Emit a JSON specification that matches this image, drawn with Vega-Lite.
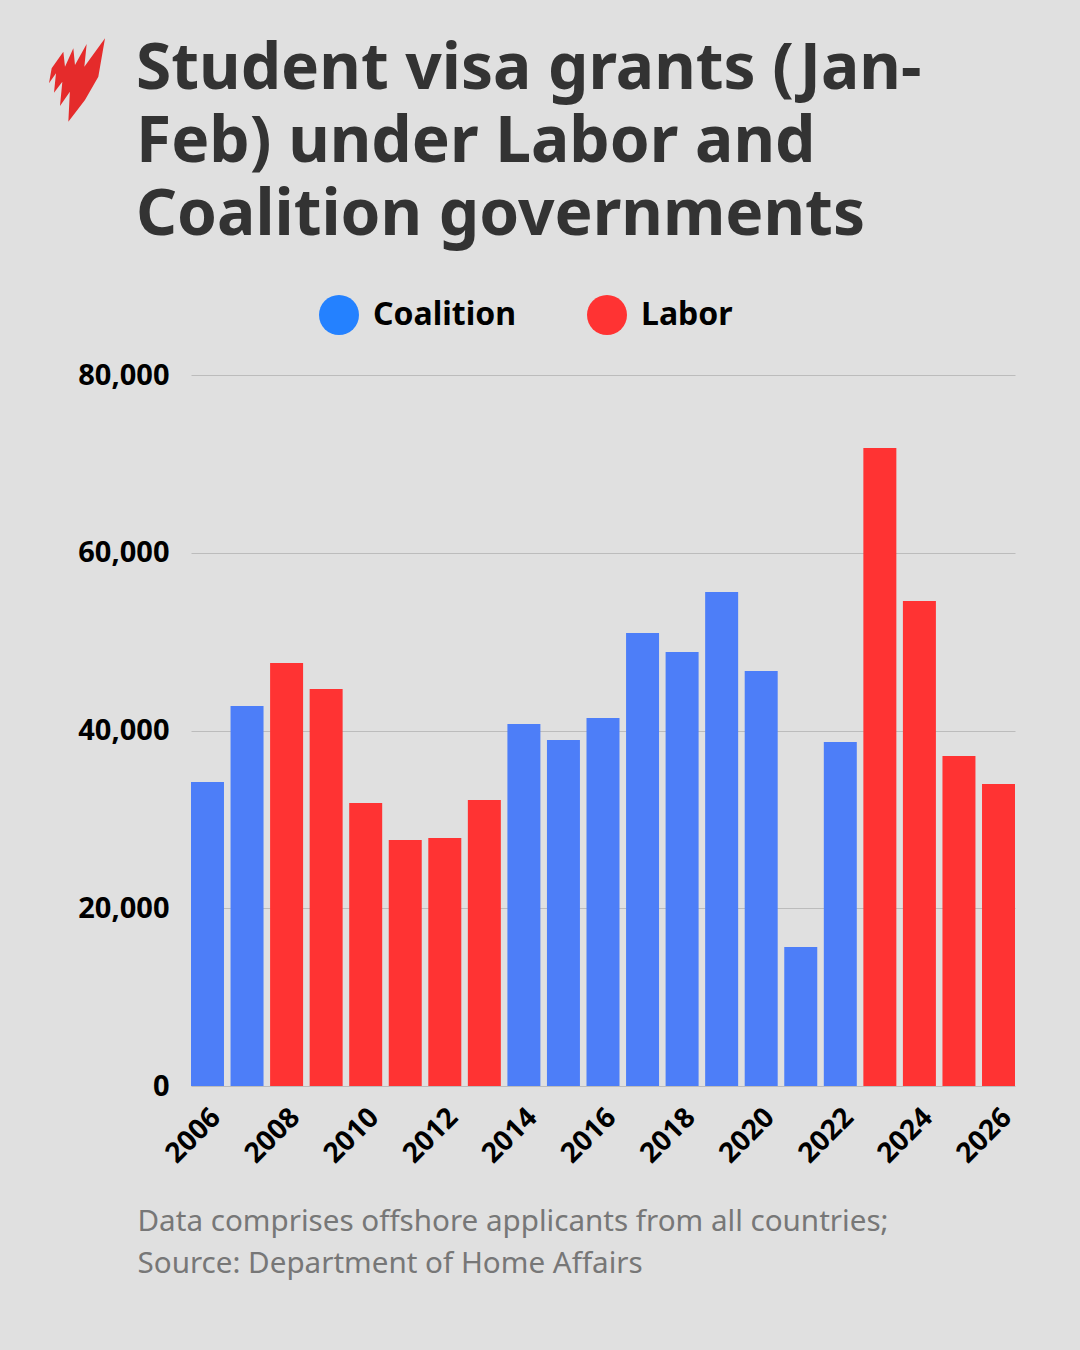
{
  "$schema": "https://vega.github.io/schema/vega-lite/v6.json",
  "description": "Student visa grants (Jan-Feb) under Labor and Coalition governments",
  "width": 824,
  "height": 711,
  "autosize": "none",
  "padding": {"left": 191, "top": 375, "right": 65, "bottom": 264},
  "background": "#e0e0e0",
  "config": {"view": {"stroke": null}},
  "title": {
    "text": ["Student visa grants (Jan-", "Feb) under Labor and", "Coalition governments"],
    "anchor": "start",
    "frame": "group",
    "dx": -55,
    "offset": -261,
    "baseline": "alphabetic",
    "font": "Noto Sans",
    "fontSize": 64,
    "fontWeight": 700,
    "lineHeight": 73,
    "color": "#333333"
  },
  "layer": [
    {
      "data": {
        "values": [
          {"year": 2006, "grants": 34200, "government": "Coalition"},
          {"year": 2007, "grants": 42750, "government": "Coalition"},
          {"year": 2008, "grants": 47600, "government": "Labor"},
          {"year": 2009, "grants": 44660, "government": "Labor"},
          {"year": 2010, "grants": 31840, "government": "Labor"},
          {"year": 2011, "grants": 27680, "government": "Labor"},
          {"year": 2012, "grants": 27900, "government": "Labor"},
          {"year": 2013, "grants": 32180, "government": "Labor"},
          {"year": 2014, "grants": 40730, "government": "Coalition"},
          {"year": 2015, "grants": 38930, "government": "Coalition"},
          {"year": 2016, "grants": 41400, "government": "Coalition"},
          {"year": 2017, "grants": 50960, "government": "Coalition"},
          {"year": 2018, "grants": 48830, "government": "Coalition"},
          {"year": 2019, "grants": 55580, "government": "Coalition"},
          {"year": 2020, "grants": 46690, "government": "Coalition"},
          {"year": 2021, "grants": 15640, "government": "Coalition"},
          {"year": 2022, "grants": 38700, "government": "Coalition"},
          {"year": 2023, "grants": 71780, "government": "Labor"},
          {"year": 2024, "grants": 54560, "government": "Labor"},
          {"year": 2025, "grants": 37130, "government": "Labor"},
          {"year": 2026, "grants": 33980, "government": "Labor"}
        ]
      },
      "mark": {"type": "bar"},
      "encoding": {
        "x": {
          "field": "year",
          "type": "ordinal",
          "scale": {"paddingInner": 0.166, "paddingOuter": 0},
          "axis": {
            "values": [2006, 2008, 2010, 2012, 2014, 2016, 2018, 2020, 2022, 2024, 2026],
            "labelAngle": -45,
            "labelAlign": "right",
            "labelBaseline": "middle",
            "labelPadding": 27,
            "labelOffset": 9,
            "labelFont": "Noto Sans",
            "labelFontSize": 28,
            "labelFontWeight": 700,
            "labelColor": "#000000",
            "ticks": false,
            "domain": false,
            "title": ["Data comprises offshore applicants from all countries;", "Source: Department of Home Affairs"],
            "titleFont": "Noto Sans",
            "titleFontSize": 29.6,
            "titleFontWeight": 400,
            "titleColor": "#777777",
            "titleLineHeight": 42,
            "titleAnchor": "start",
            "titleAlign": "left",
            "titleBaseline": "alphabetic",
            "titleX": -54,
            "titleY": 144
          }
        },
        "y": {
          "field": "grants",
          "type": "quantitative",
          "scale": {"domain": [0, 80000]},
          "axis": {
            "values": [0, 20000, 40000, 60000, 80000],
            "labelExpr": "format(datum.value, ',')",
            "labelFont": "Noto Sans",
            "labelFontSize": 29,
            "labelFontWeight": 700,
            "labelColor": "#000000",
            "labelPadding": 22,
            "ticks": false,
            "domain": false,
            "gridColor": "#bcbcbc",
            "gridWidth": 1,
            "title": null
          }
        },
        "color": {
          "condition": {"test": "datum.government === 'Coalition'", "value": "#4d7ef8"},
          "field": "government",
          "type": "nominal",
          "scale": {"domain": ["Coalition", "Labor"], "range": ["#2481ff", "#ff3333"]},
          "legend": {
            "title": null,
            "orient": "none",
            "legendX": 128,
            "legendY": -80,
            "direction": "horizontal",
            "columns": 2,
            "gridAlign": "each",
            "columnPadding": 70,
            "padding": 0,
            "symbolType": "circle",
            "symbolSize": 1600,
            "symbolStrokeWidth": 0,
            "symbolOpacity": 1,
            "labelFont": "Noto Sans",
            "labelFontSize": 32,
            "labelFontWeight": 700,
            "labelColor": "#000000",
            "labelOffset": 14
          }
        }
      }
    },
    {
      "data": {"values": [{"logo": "SBS", "year": 2006, "top": 80000}]},
      "mark": {
        "type": "point",
        "filled": true,
        "opacity": 1,
        "color": "#e52b2b",
        "size": 7056,
        "xOffset": -130.5,
        "yOffset": -295,
        "shape": "M.667-.992L.508-.079L.19.476L-.206.992L-.17.278L-.405.619L-.349.04L-.548.302L-.5-.159L-.667.079L-.603-.278L-.325-.675L-.286-.317L-.087-.754L-.048-.357L.23-.857L.175-.317Z"
      },
      "encoding": {
        "x": {"field": "year", "type": "ordinal"},
        "y": {"field": "top", "type": "quantitative", "axis": {"labelExpr": "format(datum.value, ',')", "values": [0, 20000, 40000, 60000, 80000], "title": null}}
      }
    }
  ]
}
